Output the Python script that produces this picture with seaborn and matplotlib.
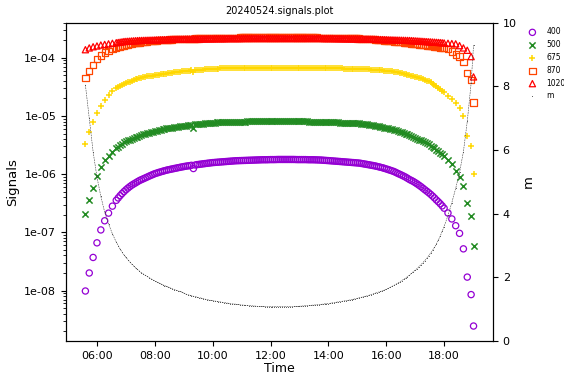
import pandas as pd
import matplotlib
matplotlib.use("Agg")
import matplotlib.pyplot as plt
import matplotlib.dates as mdates
from matplotlib.ticker import FuncFormatter, NullFormatter
import seaborn as sns

# sample times, minutes after midnight on 2024-05-24
minutes = [
    336, 344, 352, 360, 368, 376, 384, 392, 400,
    404, 408, 412, 416, 420, 424, 428, 432, 436, 440,
    444, 448, 452, 456, 460, 464, 468, 472, 476, 480,
    484, 488, 492, 496, 500, 504, 508, 512, 516, 520,
    524, 528, 532, 536, 540, 544, 548, 552, 556, 560,
    564, 568, 572, 576, 580, 584, 588, 592, 596, 600,
    604, 608, 612, 616, 620, 624, 628, 632, 636, 640,
    644, 648, 652, 656, 660, 664, 668, 672, 676, 680,
    684, 688, 692, 696, 700, 704, 708, 712, 716, 720,
    724, 728, 732, 736, 740, 744, 748, 752, 756, 760,
    764, 768, 772, 776, 780, 784, 788, 792, 796, 800,
    804, 808, 812, 816, 820, 824, 828, 832, 836, 840,
    844, 848, 852, 856, 860, 864, 868, 872, 876, 880,
    884, 888, 892, 896, 900, 904, 908, 912, 916, 920,
    924, 928, 932, 936, 940, 944, 948, 952, 956, 960,
    964, 968, 972, 976, 980, 984, 988, 992, 996, 1000,
    1004, 1008, 1012, 1016, 1020, 1024, 1028, 1032, 1036, 1040,
    1044, 1048, 1052, 1056, 1060, 1064, 1068, 1072, 1076, 1080,
    1088, 1096, 1104, 1112, 1120, 1128, 1136, 1141,
]

sig_400 = [
    9.8e-9, 2.0e-8, 3.7e-8, 6.6e-8, 1.10e-7, 1.58e-7, 2.14e-7, 2.82e-7, 3.55e-7,
    3.9e-7, 4.27e-7, 4.64e-7, 5.01e-7, 5.38e-7, 5.75e-7, 6.1e-7, 6.46e-7, 6.77e-7, 7.08e-7,
    7.42e-7, 7.76e-7, 8.04e-7, 8.32e-7, 8.61e-7, 8.91e-7, 9.23e-7, 9.55e-7, 9.87e-7, 1.02e-6,
    1.045e-6, 1.07e-6, 1.095e-6, 1.12e-6, 1.145e-6, 1.17e-6, 1.19e-6, 1.21e-6, 1.23e-6, 1.25e-6,
    1.27e-6, 1.29e-6, 1.31e-6, 1.33e-6, 1.35e-6, 1.37e-6, 1.385e-6, 1.40e-6, 1.42e-6, 1.25e-6,
    1.44e-6, 1.46e-6, 1.475e-6, 1.49e-6, 1.505e-6, 1.52e-6, 1.535e-6, 1.55e-6, 1.565e-6, 1.58e-6,
    1.59e-6, 1.60e-6, 1.61e-6, 1.62e-6, 1.63e-6, 1.64e-6, 1.65e-6, 1.66e-6, 1.67e-6, 1.68e-6,
    1.69e-6, 1.70e-6, 1.705e-6, 1.71e-6, 1.715e-6, 1.72e-6, 1.725e-6, 1.73e-6, 1.735e-6, 1.74e-6,
    1.745e-6, 1.75e-6, 1.755e-6, 1.76e-6, 1.765e-6, 1.77e-6, 1.77e-6, 1.77e-6, 1.775e-6, 1.78e-6,
    1.78e-6, 1.78e-6, 1.785e-6, 1.79e-6, 1.79e-6, 1.79e-6, 1.79e-6, 1.79e-6, 1.79e-6, 1.79e-6,
    1.79e-6, 1.79e-6, 1.785e-6, 1.78e-6, 1.78e-6, 1.78e-6, 1.78e-6, 1.78e-6, 1.775e-6, 1.77e-6,
    1.77e-6, 1.77e-6, 1.765e-6, 1.76e-6, 1.755e-6, 1.75e-6, 1.74e-6, 1.73e-6, 1.72e-6, 1.71e-6,
    1.70e-6, 1.69e-6, 1.68e-6, 1.67e-6, 1.66e-6, 1.65e-6, 1.64e-6, 1.63e-6, 1.62e-6, 1.61e-6,
    1.60e-6, 1.59e-6, 1.58e-6, 1.57e-6, 1.56e-6, 1.55e-6, 1.53e-6, 1.51e-6, 1.49e-6, 1.47e-6,
    1.45e-6, 1.43e-6, 1.41e-6, 1.39e-6, 1.365e-6, 1.34e-6, 1.315e-6, 1.29e-6, 1.26e-6, 1.23e-6,
    1.20e-6, 1.17e-6, 1.14e-6, 1.11e-6, 1.07e-6, 1.03e-6, 9.95e-7, 9.6e-7, 9.25e-7, 8.9e-7,
    8.5e-7, 8.1e-7, 7.8e-7, 7.5e-7, 7.15e-7, 6.8e-7, 6.45e-7, 6.1e-7, 5.75e-7, 5.4e-7,
    5.1e-7, 4.8e-7, 4.5e-7, 4.2e-7, 3.9e-7, 3.6e-7, 3.35e-7, 3.1e-7, 2.85e-7, 2.6e-7,
    2.15e-7, 1.7e-7, 1.3e-7, 9.6e-8, 5.2e-8, 1.7e-8, 8.5e-9, 2.45e-9,
]

sig_500 = [
    2.09e-7, 3.55e-7, 5.75e-7, 9.3e-7, 1.32e-6, 1.74e-6, 2.09e-6, 2.45e-6, 2.79e-6,
    2.97e-6, 3.16e-6, 3.33e-6, 3.51e-6, 3.65e-6, 3.80e-6, 3.93e-6, 4.07e-6, 4.19e-6, 4.31e-6,
    4.44e-6, 4.57e-6, 4.70e-6, 4.84e-6, 4.95e-6, 5.07e-6, 5.19e-6, 5.31e-6, 5.40e-6, 5.50e-6,
    5.60e-6, 5.69e-6, 5.79e-6, 5.89e-6, 6.00e-6, 6.10e-6, 6.17e-6, 6.24e-6, 6.31e-6, 6.38e-6,
    6.45e-6, 6.53e-6, 6.60e-6, 6.68e-6, 6.76e-6, 6.84e-6, 6.92e-6, 7.00e-6, 7.06e-6, 6.3e-6,
    7.18e-6, 7.24e-6, 7.30e-6, 7.36e-6, 7.41e-6, 7.46e-6, 7.52e-6, 7.59e-6, 7.63e-6, 7.67e-6,
    7.70e-6, 7.74e-6, 7.77e-6, 7.80e-6, 7.82e-6, 7.85e-6, 7.87e-6, 7.90e-6, 7.92e-6, 7.94e-6,
    7.95e-6, 7.97e-6, 7.98e-6, 8.00e-6, 8.01e-6, 8.03e-6, 8.04e-6, 8.05e-6, 8.06e-6, 8.07e-6,
    8.07e-6, 8.08e-6, 8.08e-6, 8.09e-6, 8.09e-6, 8.10e-6, 8.10e-6, 8.10e-6, 8.10e-6, 8.11e-6,
    8.11e-6, 8.11e-6, 8.11e-6, 8.11e-6, 8.11e-6, 8.11e-6, 8.11e-6, 8.11e-6, 8.10e-6, 8.10e-6,
    8.10e-6, 8.10e-6, 8.09e-6, 8.09e-6, 8.08e-6, 8.08e-6, 8.07e-6, 8.06e-6, 8.05e-6, 8.04e-6,
    8.02e-6, 8.01e-6, 7.99e-6, 7.98e-6, 7.96e-6, 7.94e-6, 7.92e-6, 7.90e-6, 7.88e-6, 7.86e-6,
    7.84e-6, 7.82e-6, 7.79e-6, 7.77e-6, 7.74e-6, 7.72e-6, 7.69e-6, 7.67e-6, 7.64e-6, 7.62e-6,
    7.59e-6, 7.56e-6, 7.53e-6, 7.50e-6, 7.47e-6, 7.44e-6, 7.39e-6, 7.34e-6, 7.26e-6, 7.18e-6,
    7.09e-6, 7.00e-6, 6.91e-6, 6.82e-6, 6.72e-6, 6.63e-6, 6.53e-6, 6.44e-6, 6.34e-6, 6.24e-6,
    6.13e-6, 6.03e-6, 5.91e-6, 5.80e-6, 5.67e-6, 5.55e-6, 5.41e-6, 5.28e-6, 5.11e-6, 4.95e-6,
    4.81e-6, 4.68e-6, 4.52e-6, 4.37e-6, 4.22e-6, 4.07e-6, 3.93e-6, 3.80e-6, 3.67e-6, 3.55e-6,
    3.39e-6, 3.24e-6, 3.09e-6, 2.95e-6, 2.79e-6, 2.63e-6, 2.48e-6, 2.34e-6, 2.21e-6, 2.09e-6,
    1.78e-6, 1.48e-6, 1.15e-6, 9.1e-7, 6.2e-7, 3.2e-7, 1.9e-7, 5.8e-8,
]

sig_675 = [
    3.31e-6, 5.25e-6, 7.9e-6, 1.12e-5, 1.48e-5, 1.91e-5, 2.29e-5, 2.69e-5, 3.02e-5,
    3.16e-5, 3.31e-5, 3.43e-5, 3.55e-5, 3.67e-5, 3.80e-5, 3.91e-5, 4.03e-5, 4.15e-5, 4.27e-5,
    4.37e-5, 4.47e-5, 4.55e-5, 4.62e-5, 4.70e-5, 4.79e-5, 4.84e-5, 4.90e-5, 4.95e-5, 5.01e-5,
    5.07e-5, 5.13e-5, 5.19e-5, 5.25e-5, 5.31e-5, 5.37e-5, 5.43e-5, 5.50e-5, 5.56e-5, 5.62e-5,
    5.68e-5, 5.75e-5, 5.80e-5, 5.85e-5, 5.89e-5, 5.94e-5, 5.98e-5, 6.03e-5, 6.07e-5, 5.6e-5,
    6.15e-5, 6.19e-5, 6.23e-5, 6.27e-5, 6.30e-5, 6.34e-5, 6.37e-5, 6.40e-5, 6.43e-5, 6.46e-5,
    6.48e-5, 6.51e-5, 6.53e-5, 6.56e-5, 6.58e-5, 6.60e-5, 6.61e-5, 6.63e-5, 6.64e-5, 6.66e-5,
    6.67e-5, 6.68e-5, 6.69e-5, 6.70e-5, 6.71e-5, 6.72e-5, 6.72e-5, 6.73e-5, 6.73e-5, 6.74e-5,
    6.74e-5, 6.75e-5, 6.75e-5, 6.76e-5, 6.76e-5, 6.76e-5, 6.76e-5, 6.77e-5, 6.77e-5, 6.77e-5,
    6.77e-5, 6.77e-5, 6.77e-5, 6.77e-5, 6.77e-5, 6.77e-5, 6.76e-5, 6.76e-5, 6.76e-5, 6.76e-5,
    6.75e-5, 6.75e-5, 6.75e-5, 6.75e-5, 6.74e-5, 6.74e-5, 6.73e-5, 6.73e-5, 6.72e-5, 6.72e-5,
    6.71e-5, 6.71e-5, 6.70e-5, 6.70e-5, 6.69e-5, 6.68e-5, 6.67e-5, 6.66e-5, 6.65e-5, 6.64e-5,
    6.63e-5, 6.62e-5, 6.61e-5, 6.60e-5, 6.58e-5, 6.57e-5, 6.56e-5, 6.55e-5, 6.53e-5, 6.52e-5,
    6.50e-5, 6.49e-5, 6.47e-5, 6.46e-5, 6.44e-5, 6.43e-5, 6.41e-5, 6.39e-5, 6.36e-5, 6.34e-5,
    6.31e-5, 6.29e-5, 6.26e-5, 6.23e-5, 6.19e-5, 6.16e-5, 6.12e-5, 6.09e-5, 6.05e-5, 6.01e-5,
    5.96e-5, 5.92e-5, 5.86e-5, 5.80e-5, 5.71e-5, 5.62e-5, 5.52e-5, 5.43e-5, 5.34e-5, 5.25e-5,
    5.15e-5, 5.06e-5, 4.96e-5, 4.87e-5, 4.76e-5, 4.65e-5, 4.54e-5, 4.43e-5, 4.31e-5, 4.20e-5,
    4.06e-5, 3.93e-5, 3.77e-5, 3.62e-5, 3.45e-5, 3.28e-5, 3.09e-5, 2.90e-5, 2.72e-5, 2.55e-5,
    2.25e-5, 1.96e-5, 1.65e-5, 1.38e-5, 1.0e-5, 4.6e-6, 3.0e-6, 1.0e-6,
]

sig_870 = [
    4.57e-5, 6.03e-5, 7.59e-5, 9.55e-5, 1.10e-4, 1.23e-4, 1.33e-4, 1.41e-4, 1.50e-4,
    1.52e-4, 1.55e-4, 1.58e-4, 1.62e-4, 1.66e-4, 1.70e-4, 1.73e-4, 1.76e-4, 1.78e-4, 1.80e-4,
    1.82e-4, 1.84e-4, 1.86e-4, 1.88e-4, 1.90e-4, 1.91e-4, 1.93e-4, 1.94e-4, 1.95e-4, 1.96e-4,
    1.98e-4, 2.00e-4, 2.01e-4, 2.02e-4, 2.03e-4, 2.04e-4, 2.05e-4, 2.06e-4, 2.07e-4, 2.08e-4,
    2.09e-4, 2.10e-4, 2.105e-4, 2.11e-4, 2.115e-4, 2.12e-4, 2.125e-4, 2.13e-4, 2.135e-4, 2.14e-4,
    2.145e-4, 2.15e-4, 2.155e-4, 2.16e-4, 2.165e-4, 2.17e-4, 2.175e-4, 2.18e-4, 2.185e-4, 2.19e-4,
    2.195e-4, 2.20e-4, 2.20e-4, 2.20e-4, 2.205e-4, 2.21e-4, 2.21e-4, 2.21e-4, 2.215e-4, 2.22e-4,
    2.22e-4, 2.22e-4, 2.225e-4, 2.23e-4, 2.23e-4, 2.23e-4, 2.23e-4, 2.23e-4, 2.235e-4, 2.24e-4,
    2.24e-4, 2.24e-4, 2.24e-4, 2.24e-4, 2.24e-4, 2.24e-4, 2.24e-4, 2.24e-4, 2.24e-4, 2.24e-4,
    2.24e-4, 2.24e-4, 2.24e-4, 2.24e-4, 2.24e-4, 2.24e-4, 2.24e-4, 2.24e-4, 2.24e-4, 2.24e-4,
    2.24e-4, 2.24e-4, 2.24e-4, 2.24e-4, 2.235e-4, 2.23e-4, 2.23e-4, 2.23e-4, 2.23e-4, 2.23e-4,
    2.23e-4, 2.23e-4, 2.23e-4, 2.23e-4, 2.225e-4, 2.22e-4, 2.22e-4, 2.22e-4, 2.22e-4, 2.22e-4,
    2.215e-4, 2.21e-4, 2.21e-4, 2.21e-4, 2.205e-4, 2.20e-4, 2.195e-4, 2.19e-4, 2.185e-4, 2.18e-4,
    2.175e-4, 2.17e-4, 2.165e-4, 2.16e-4, 2.155e-4, 2.15e-4, 2.14e-4, 2.13e-4, 2.12e-4, 2.11e-4,
    2.10e-4, 2.09e-4, 2.075e-4, 2.06e-4, 2.045e-4, 2.03e-4, 2.015e-4, 2.00e-4, 1.985e-4, 1.97e-4,
    1.955e-4, 1.94e-4, 1.925e-4, 1.91e-4, 1.895e-4, 1.88e-4, 1.865e-4, 1.85e-4, 1.835e-4, 1.82e-4,
    1.80e-4, 1.78e-4, 1.765e-4, 1.75e-4, 1.735e-4, 1.72e-4, 1.70e-4, 1.68e-4, 1.665e-4, 1.65e-4,
    1.635e-4, 1.62e-4, 1.60e-4, 1.58e-4, 1.565e-4, 1.55e-4, 1.53e-4, 1.51e-4, 1.49e-4, 1.47e-4,
    1.40e-4, 1.28e-4, 1.14e-4, 1.05e-4, 8.6e-5, 5.5e-5, 4.2e-5, 1.7e-5,
]

sig_1020 = [
    1.38e-4, 1.48e-4, 1.55e-4, 1.60e-4, 1.66e-4, 1.70e-4, 1.74e-4, 1.78e-4, 1.82e-4,
    1.84e-4, 1.86e-4, 1.885e-4, 1.91e-4, 1.92e-4, 1.93e-4, 1.94e-4, 1.95e-4, 1.96e-4, 1.97e-4,
    1.98e-4, 1.99e-4, 1.995e-4, 2.00e-4, 2.005e-4, 2.01e-4, 2.015e-4, 2.02e-4, 2.025e-4, 2.03e-4,
    2.035e-4, 2.04e-4, 2.045e-4, 2.05e-4, 2.055e-4, 2.06e-4, 2.065e-4, 2.07e-4, 2.075e-4, 2.08e-4,
    2.085e-4, 2.09e-4, 2.09e-4, 2.09e-4, 2.095e-4, 2.10e-4, 2.10e-4, 2.10e-4, 2.105e-4, 2.11e-4,
    2.11e-4, 2.11e-4, 2.115e-4, 2.12e-4, 2.12e-4, 2.12e-4, 2.125e-4, 2.13e-4, 2.13e-4, 2.13e-4,
    2.135e-4, 2.14e-4, 2.14e-4, 2.14e-4, 2.14e-4, 2.14e-4, 2.145e-4, 2.15e-4, 2.15e-4, 2.15e-4,
    2.15e-4, 2.15e-4, 2.15e-4, 2.15e-4, 2.155e-4, 2.16e-4, 2.16e-4, 2.16e-4, 2.16e-4, 2.16e-4,
    2.16e-4, 2.16e-4, 2.16e-4, 2.16e-4, 2.16e-4, 2.16e-4, 2.16e-4, 2.16e-4, 2.16e-4, 2.16e-4,
    2.16e-4, 2.16e-4, 2.16e-4, 2.16e-4, 2.16e-4, 2.16e-4, 2.16e-4, 2.16e-4, 2.16e-4, 2.16e-4,
    2.16e-4, 2.16e-4, 2.16e-4, 2.16e-4, 2.16e-4, 2.16e-4, 2.16e-4, 2.16e-4, 2.16e-4, 2.16e-4,
    2.16e-4, 2.16e-4, 2.16e-4, 2.16e-4, 2.16e-4, 2.16e-4, 2.155e-4, 2.15e-4, 2.15e-4, 2.15e-4,
    2.15e-4, 2.15e-4, 2.145e-4, 2.14e-4, 2.14e-4, 2.14e-4, 2.135e-4, 2.13e-4, 2.13e-4, 2.13e-4,
    2.125e-4, 2.12e-4, 2.12e-4, 2.12e-4, 2.115e-4, 2.11e-4, 2.105e-4, 2.10e-4, 2.10e-4, 2.10e-4,
    2.095e-4, 2.09e-4, 2.085e-4, 2.08e-4, 2.075e-4, 2.07e-4, 2.065e-4, 2.06e-4, 2.055e-4, 2.05e-4,
    2.045e-4, 2.04e-4, 2.035e-4, 2.03e-4, 2.025e-4, 2.02e-4, 2.015e-4, 2.01e-4, 2.005e-4, 2.00e-4,
    1.995e-4, 1.99e-4, 1.98e-4, 1.97e-4, 1.96e-4, 1.95e-4, 1.94e-4, 1.93e-4, 1.92e-4, 1.91e-4,
    1.90e-4, 1.89e-4, 1.88e-4, 1.87e-4, 1.86e-4, 1.85e-4, 1.84e-4, 1.83e-4, 1.815e-4, 1.80e-4,
    1.78e-4, 1.76e-4, 1.74e-4, 1.62e-4, 1.48e-4, 1.35e-4, 1.05e-4, 4.7e-5,
]

# air mass
airmass = [
    8.05, 7.0, 5.95, 5.15, 4.55, 4.05, 3.68, 3.37, 3.11,
    3.0, 2.89, 2.80, 2.71, 2.63, 2.56, 2.49, 2.42, 2.36, 2.30,
    2.25, 2.20, 2.15, 2.11, 2.07, 2.03, 1.995, 1.96, 1.925, 1.89,
    1.86, 1.83, 1.80, 1.77, 1.745, 1.72, 1.695, 1.67, 1.645, 1.62,
    1.60, 1.58, 1.56, 1.54, 1.51, 1.48, 1.46, 1.44, 1.425, 1.41,
    1.395, 1.38, 1.365, 1.35, 1.335, 1.32, 1.305, 1.29, 1.28, 1.27,
    1.26, 1.25, 1.24, 1.23, 1.22, 1.21, 1.20, 1.19, 1.18, 1.17,
    1.165, 1.16, 1.15, 1.14, 1.135, 1.13, 1.125, 1.12, 1.115, 1.11,
    1.105, 1.10, 1.095, 1.09, 1.09, 1.09, 1.085, 1.08, 1.08, 1.08,
    1.08, 1.08, 1.08, 1.08, 1.08, 1.08, 1.08, 1.08, 1.08, 1.08,
    1.085, 1.09, 1.09, 1.09, 1.095, 1.10, 1.105, 1.11, 1.115, 1.12,
    1.125, 1.13, 1.135, 1.14, 1.145, 1.15, 1.16, 1.17, 1.175, 1.18,
    1.19, 1.20, 1.21, 1.22, 1.23, 1.24, 1.25, 1.26, 1.27, 1.28,
    1.29, 1.30, 1.315, 1.33, 1.345, 1.36, 1.375, 1.39, 1.405, 1.42,
    1.44, 1.46, 1.48, 1.50, 1.52, 1.54, 1.56, 1.58, 1.605, 1.63,
    1.66, 1.69, 1.72, 1.75, 1.785, 1.82, 1.86, 1.90, 1.94, 1.98,
    2.025, 2.07, 2.125, 2.18, 2.23, 2.28, 2.34, 2.40, 2.465, 2.53,
    2.60, 2.68, 2.765, 2.85, 2.95, 3.05, 3.17, 3.30, 3.45, 3.60,
    3.95, 4.35, 4.80, 5.30, 5.95, 6.9, 8.1, 9.3,
]

times = pd.Timestamp("2024-05-24") + pd.to_timedelta(minutes, unit="min")

sns.set_style("ticks", {"axes.edgecolor": "black", "xtick.color": "black",
                        "ytick.color": "black", "text.color": "black",
                        "axes.labelcolor": "black"})
plt.rcParams["font.family"] = ["DejaVu Sans"]
plt.rcParams["xtick.major.size"] = 3.5
plt.rcParams["ytick.major.size"] = 3.5
plt.rcParams["ytick.minor.size"] = 2
plt.rcParams["axes.linewidth"] = 0.8

fig, ax = plt.subplots(figsize=(5.64, 3.74), dpi=100)
fig.subplots_adjust(left=0.117, right=0.874, top=0.939, bottom=0.088)

# (label, values, marker, colour, hollow)
series = [
    ("400", sig_400, "o", "darkviolet", True),
    ("500", sig_500, "x", "forestgreen", False),
    ("675", sig_675, "+", "gold", False),
    ("870", sig_870, "s", "orangered", True),
    ("1020", sig_1020, "^", "red", True),
]

for lab, vals, mk, col, hollow in series:
    if hollow:
        sns.scatterplot(x=times, y=vals, ax=ax, marker=mk, s=20, color=col,
                        facecolor="none", edgecolor=col, linewidth=0.9,
                        label=lab, legend=False)
    else:
        sns.scatterplot(x=times, y=vals, ax=ax, marker=mk, s=20, color=col,
                        linewidth=1.1, label=lab, legend=False)

ax.set_yscale("log")
ax.set_ylim(1.35e-9, 4.0e-4)
ax.yaxis.set_major_formatter(FuncFormatter(lambda v, p: f"{v:.0e}"))
ax.yaxis.set_minor_formatter(NullFormatter())
ax.set_ylabel("Signals", fontsize=9.5)
ax.set_xlabel("Time", fontsize=9, labelpad=0.5)
ax.set_title("20240524.signals.plot", fontsize=7)
ax.tick_params(labelsize=8)

ax2 = ax.twinx()
sns.lineplot(x=times, y=airmass, ax=ax2, color="0.25", linewidth=0.4,
             linestyle=(0, (3, 1.5)), estimator=None, sort=False)
sns.scatterplot(x=times, y=airmass, ax=ax2, marker=".", s=1.5, color="0.25",
                edgecolor="0.25", linewidth=0, label="m", legend=False)
ax2.set_ylim(0, 10)
ax2.set_ylabel("m", fontsize=9.5)
ax2.tick_params(labelsize=8)

ax.xaxis.set_major_locator(mdates.HourLocator(byhour=range(0, 24, 2)))
ax.xaxis.set_major_formatter(mdates.DateFormatter("%H:%M"))

h1, l1 = ax.get_legend_handles_labels()
h2, l2 = ax2.get_legend_handles_labels()
fig.legend(h1 + h2, l1 + l2, loc="upper left", bbox_to_anchor=(0.925, 0.935),
           frameon=False, fontsize=5.5, borderaxespad=0)

fig.savefig("out.png", dpi=100)
